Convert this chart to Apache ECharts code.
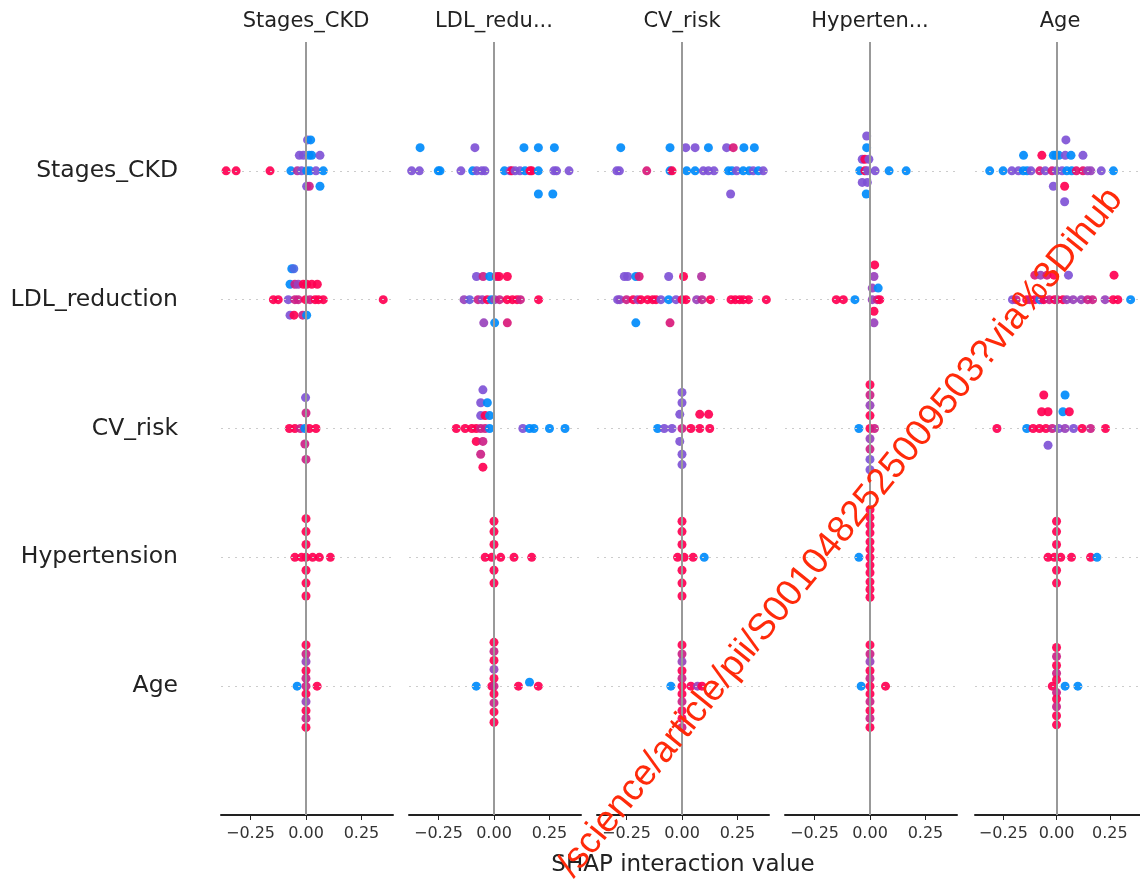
<!DOCTYPE html>
<html><head><meta charset="utf-8">
<script src="https://cdn.jsdelivr.net/npm/echarts@6/dist/echarts.min.js"></script>
<style>html,body{margin:0;padding:0;background:#fff}#c{width:1140px;height:880px}</style>
</head><body><div id="c"></div>
<script>
// Row features (top to bottom) and column titles
const features = ['Stages_CKD', 'LDL_reduction', 'CV_risk', 'Hypertension', 'Age'];
const columnTitles = ['Stages_CKD', 'LDL_redu...', 'CV_risk', 'Hyperten...', 'Age'];
const tickValues = [-0.25, 0, 0.25];
const xAxisLabel = 'SHAP interaction value';
const watermarkText = '/science/article/pii/S0010482525009503?via%3Dihub';

// Each point: [SHAP interaction value, swarm offset (row units), feature value 0(low)..1(high)]
// Row: Stages_CKD
const ckd_ckd = [[-0.36,0,1],[-0.315,0,1],[-0.162,0,1],[-0.068,0,0],[-0.039,0,0.7],[-0.02,0,0.5],[0.003,0,0],[0.018,0,0],[0.045,0,0.5],[0.078,0,0],
  [-0.03,0.12,0.5],[-0.012,0.12,0.5],[0.014,0.12,0],[0.026,0.12,0],[0.063,0.12,0.5],
  [0.007,0.24,0.5],[0.021,0.24,0],
  [0.003,-0.12,0.5],[0.015,-0.12,0.8],[0.063,-0.12,0]];
const ckd_ldl = [[-0.333,0.18,0],[-0.086,0.18,0.5],[0.135,0.18,0],[0.2,0.18,0],[0.272,0.18,0],
  [-0.371,0,0.5],[-0.336,0,0.5],[-0.251,0,0],[-0.243,0,0],[-0.149,0,0.5],[-0.096,0,0],[-0.078,0,0.5],[-0.055,0,0.5],[-0.041,0,0.5],[0.047,0,0],[0.072,0,0.5],[0.08,0,1],[0.095,0,0.5],[0.117,0,0.5],[0.14,0,0],[0.162,0,1],[0.17,0,1],[0.2,0,0],[0.27,0,0.5],[0.282,0,0.5],[0.338,0,0.5],
  [0.2,-0.18,0],[0.265,-0.18,0]];
const ckd_cv = [[-0.276,0.18,0],[-0.054,0.18,0],[0.017,0.18,0.5],[0.059,0.18,0.5],[0.119,0.18,0],[0.201,0.18,0.5],[0.231,0.18,0.85],[0.279,0.18,0],[0.326,0.18,0],
  [-0.294,0,0.5],[-0.282,0,0.5],[-0.159,0,0.85],[-0.054,0,0],[-0.045,0,1],[0.021,0,0],[0.059,0,0],[0.096,0,0.5],[0.119,0,0.5],[0.144,0,0.5],[0.209,0,0],[0.225,0,0],[0.246,0,0.5],[0.276,0,0],[0.303,0,0],[0.321,0,0.5],[0.344,0,0],[0.366,0,0.5],
  [0.219,-0.18,0.5]];
const ckd_hyp = [[-0.015,0.27,0.5],[-0.015,0.18,0],
  [-0.035,0.09,0.5],[-0.023,0.09,1],[-0.005,0.09,0.5],
  [-0.046,0,0],[-0.023,0,1],[-0.012,0,0.5],[0.023,0,0.5],[0.086,0,0],[0.163,0,0],
  [-0.035,-0.09,0.5],[-0.012,-0.09,0.5],[-0.017,-0.18,0]];
const ckd_age = [[0.044,0.24,0.5],
  [-0.155,0.12,0],[-0.069,0.12,1],[-0.015,0.12,0],[-0.003,0.12,0],[0.011,0.12,0],[0.041,0.12,0.5],[0.068,0.12,0],[0.124,0.12,0.5],
  [-0.314,0,0],[-0.251,0,0],[-0.21,0,0.5],[-0.179,0,0.5],[-0.156,0,0],[-0.138,0,0],[-0.12,0,0.5],[-0.079,0,0.85],[-0.053,0,0.5],[-0.021,0,0.85],[0,0,0.5],[0.026,0,0.5],[0.048,0,0],[0.071,0,0],[0.093,0,0.9],[0.124,0,0.9],[0.146,0,0.6],[0.161,0,0.6],[0.21,0,0.5],[0.267,0,0],
  [-0.015,-0.12,0.5],[0.038,-0.12,1],[0.038,-0.24,0.5]];
// Row: LDL_reduction
const ldl_ckd = [[-0.064,0.24,0],[-0.055,0.24,0.3],
  [-0.072,0.12,0],[-0.05,0.12,0.8],[-0.035,0.12,0.6],[-0.012,0.12,1],[0.003,0.12,1],[0.026,0.12,1],[0.051,0.12,1],
  [-0.147,0,1],[-0.125,0,1],[-0.08,0,0.5],[-0.05,0,0.8],[-0.035,0,0.8],[-0.002,0,1],[0.018,0,0.8],[0.041,0,1],[0.056,0,1],[0.078,0,1],[0.348,0,1],
  [-0.072,-0.12,0.5],[-0.054,-0.12,1],[-0.015,-0.12,0.8],[0.003,-0.12,0]];
const ldl_ldl = [[-0.079,0.18,0.5],[-0.049,0.18,0.8],[-0.019,0.18,0],[0.011,0.18,0.8],[0.023,0.18,1],[0.06,0.18,1],
  [-0.135,0,0.6],[-0.11,0,0.4],[-0.072,0,0.8],[-0.053,0,0.6],[-0.03,0,1],[-0.012,0,0],[0.003,0,0.6],[0.025,0,0.8],[0.059,0,1],[0.083,0,1],[0.104,0,1],[0.119,0,0.8],[0.201,0,1],
  [-0.046,-0.18,0.6],[0.003,-0.18,0],[0.06,-0.18,0.85]];
const ldl_cv = [[-0.26,0.18,0.5],[-0.245,0.18,0.5],[-0.208,0.18,0],[-0.193,0.18,0.85],[-0.06,0.18,0.5],[0.007,0.18,1],[0.088,0.18,0.7],
  [-0.29,0,0.5],[-0.28,0,0.55],[-0.25,0,0.8],[-0.22,0,1],[-0.2,0,0.6],[-0.185,0,1],[-0.155,0,1],[-0.132,0,1],[-0.117,0,1],[-0.095,0,0.5],[-0.06,0,0],[-0.027,0,0.5],[0,0,1],[0.018,0,1],[0.066,0,0.6],[0.09,0,0.75],[0.128,0,1],[0.221,0,1],[0.24,0,1],[0.26,0,1],[0.276,0,1],[0.3,0,1],[0.38,0,1],
  [-0.208,-0.18,0],[-0.054,-0.18,0.85]];
const ldl_hyp = [[0.021,0.27,1],[0.018,0.18,0.6],[0.01,0.09,0.6],[0.037,0.09,0],
  [-0.152,0,1],[-0.12,0,1],[-0.068,0,0],[0.01,0,0.6],[0.033,0,0.8],[0.044,0,1],
  [0.018,-0.09,1],[0.018,-0.18,0.6]];
const ldl_age = [[-0.102,0.19,0.85],[-0.075,0.19,0.6],[-0.045,0.19,0.85],[-0.012,0.19,1],[0.056,0.19,0.5],[0.27,0.19,1],
  [-0.207,0,0.5],[-0.19,0,0.8],[-0.14,0,1],[-0.125,0,0.8],[-0.102,0,1],[-0.079,0,0],[-0.07,0,0.5],[-0.06,0,1],[-0.034,0,0.8],[-0.009,0,1],[0.003,0,0.8],[0.03,0,1],[0.048,0,0.6],[0.078,0,0.6],[0.116,0,0.6],[0.146,0,0.8],[0.169,0,0.8],[0.228,0,0.6],[0.266,0,1],[0.288,0,1],[0.348,0,0]];
// Row: CV_risk
const cv_ckd = [[-0.002,0.24,0.5],[0,0.12,0.8],
  [-0.075,0,1],[-0.05,0,1],[-0.025,0,0.8],[-0.005,0,0],[0.015,0,1],[0.045,0,1],
  [-0.005,-0.12,0.8],[0,-0.24,0.8]];
const cv_ldl = [[-0.05,0.3,0.5],[-0.06,0.2,0.5],[-0.03,0.2,0],[-0.06,0.1,0.5],[-0.04,0.1,1],[-0.02,0.1,0],
  [-0.17,0,1],[-0.13,0,1],[-0.1,0,1],[-0.08,0,1],[-0.06,0,0.8],[-0.04,0,0.8],[-0.02,0,0],[0.13,0,0.5],[0.16,0,0],[0.18,0,0],[0.25,0,0],[0.32,0,0],
  [-0.08,-0.1,1],[-0.05,-0.1,0.8],[-0.06,-0.2,0.8],[-0.05,-0.3,1]];
const cv_cv = [[0,0.28,0.5],[0,0.2,0.5],[0.08,0.11,1],[0.12,0.11,1],[-0.01,0.11,0.5],
  [-0.11,0,0],[-0.08,0,0.5],[-0.045,0,0.5],[0,0,0.8],[0.04,0,1],[0.08,0,1],[0.125,0,1],
  [-0.01,-0.1,0.5],[0,-0.2,0.5],[0,-0.28,0.5]];
const cv_hyp = [[0,0.34,1],[0,0.26,0.8],[0,0.18,0.6],[0,0.1,1],
  [-0.05,0,0],[0,0,1],[0.02,0,0.8],
  [0,-0.08,0.6],[0,-0.16,0.8],[0,-0.24,0.5],[0,-0.32,0.5]];
const cv_age = [[-0.06,0.26,1],[0.04,0.26,0],
  [-0.07,0.13,1],[-0.04,0.13,1],[0.03,0.13,0],[0.06,0.13,1],
  [-0.28,0,1],[-0.14,0,0],[-0.11,0,1],[-0.08,0,1],[-0.05,0,1],[-0.02,0,0.8],[0.01,0,0.5],[0.04,0,0.6],[0.08,0,0.5],[0.12,0,1],[0.16,0,0.8],[0.23,0,1],
  [-0.04,-0.13,0.5]];
// Row: Hypertension
const hyp_ckd = [[0,0.3,1],[0,0.2,1],[0,0.1,1],
  [-0.05,0,1],[-0.02,0,1],[0,0,1],[0.03,0,1],[0.06,0,1],[0.11,0,1],
  [0,-0.1,1],[0,-0.2,1],[0,-0.3,1]];
const hyp_ldl = [[0,0.28,1],[0,0.2,1],[0,0.1,1],
  [-0.04,0,1],[-0.01,0,1],[0.03,0,1],[0.09,0,1],[0.17,0,1],
  [0,-0.1,1],[0,-0.2,1]];
const hyp_cv = [[0,0.28,1],[0,0.2,1],[0,0.1,1],
  [-0.02,0,1],[0.01,0,1],[0.05,0,1],[0.1,0,0],
  [0,-0.1,1],[0,-0.2,1],[0,-0.3,1]];
const hyp_hyp = [[0,0.37,1],[0,0.31,1],[0,0.25,1],[0,0.19,1],[0,0.12,1],[0,0.06,1],
  [-0.05,0,0],[0,0,1],[0,-0.06,1],[0,-0.12,1],[0,-0.19,1],[0,-0.25,1],[0,-0.31,1]];
const hyp_age = [[0,0.28,1],[0,0.2,1],[0,0.1,1],
  [-0.04,0,1],[-0.01,0,1],[0.02,0,1],[0.07,0,1],[0.16,0,1],[0.19,0,0],
  [0,-0.1,1],[0,-0.2,1]];
// Row: Age
const age_ckd = [[0,0.32,1],[0,0.25,0.8],[0,0.19,0.6],[0,0.12,1],[0,0.06,0.8],
  [-0.04,0,0],[0,0,0.8],[0.05,0,1],
  [0,-0.06,1],[0,-0.12,0.6],[0,-0.19,1],[0,-0.25,0.8],[0,-0.32,1]];
const age_ldl = [[0,0.34,1],[0,0.27,0.8],[0,0.2,1],[0,0.13,0.6],[0,0.06,1],
  [-0.08,0,0],[-0.01,0,1],[0,0,0.8],[0.11,0,1],[0.16,0.03,0],[0.2,0,1],
  [0,-0.06,1],[0,-0.13,0.8],[0,-0.2,1],[0,-0.28,1]];
const age_cv = [[0,0.32,1],[0,0.25,0.8],[0,0.19,0.6],[0,0.12,1],[0,0.06,0.8],
  [-0.05,0,0],[0,0,1],[0.04,0,1],[0.07,0,0.6],[0.09,0,1],
  [0,-0.06,1],[0,-0.12,0.8],[0,-0.19,1],[0,-0.25,1],[0,-0.32,0.8]];
const age_hyp = [[0,0.32,1],[0,0.25,0.8],[0,0.19,0.6],[0,0.12,1],[0,0.06,0.8],
  [-0.04,0,0],[0,0,1],[0.07,0,1],
  [0,-0.06,1],[0,-0.12,0.8],[0,-0.19,1],[0,-0.25,0.8],[0,-0.32,1]];
const age_age = [[0,0.3,1],[0,0.23,0.8],[0,0.16,1],[0,0.1,0.8],[0,0.05,1],
  [-0.02,0,1],[0.04,0,0],[0.1,0,0],
  [0,-0.05,0.8],[0,-0.1,1],[0,-0.16,0.8],[0,-0.23,1],[0,-0.3,1]];

const cells = [
  [ckd_ckd, ckd_ldl, ckd_cv, ckd_hyp, ckd_age],
  [ldl_ckd, ldl_ldl, ldl_cv, ldl_hyp, ldl_age],
  [cv_ckd, cv_ldl, cv_cv, cv_hyp, cv_age],
  [hyp_ckd, hyp_ldl, hyp_cv, hyp_hyp, hyp_age],
  [age_ckd, age_ldl, age_cv, age_hyp, age_age]
];

const panelLeft = [221, 409, 597, 785, 975];
const panelWidth = 172;
const gridTop = 42, gridHeight = 773;
const nRows = features.length;
const fontFam = '"DejaVu Sans", sans-serif';

const grids = [], xAxes = [], yAxes = [], series = [], graphics = [];
panelLeft.forEach((left, c) => {
  grids.push({left: left, top: gridTop, width: panelWidth, height: gridHeight});
  xAxes.push({
    type: 'value', gridIndex: c, min: -0.383, max: 0.392,
    axisLine: {show: true, onZero: false, lineStyle: {color: '#222', width: 2}},
    axisTick: {show: true, customValues: tickValues, length: 5, lineStyle: {color: '#222', width: 1}},
    axisLabel: {show: true, customValues: tickValues, color: '#333', fontSize: 16, fontFamily: fontFam, margin: 11,
      formatter: v => v.toFixed(2).replace('-', '\u2212')},
    splitLine: {show: false}
  });
  yAxes.push({type: 'value', gridIndex: c, min: -1, max: nRows, show: false});
  // guide lines
  series.push({
    type: 'scatter', xAxisIndex: c, yAxisIndex: c, data: [], z: 1, silent: true,
    markLine: {
      silent: true, symbol: 'none', animation: false, label: {show: false},
      data: features.map((f, r) => ({yAxis: nRows - 1 - r, lineStyle: {color: '#cccccc', width: 1, type: [2, 5]}}))
        .concat([{xAxis: 0, lineStyle: {color: '#999999', width: 2, type: 'solid'}}])
    }
  });
  features.forEach((f, r) => {
    series.push({
      type: 'scatter', xAxisIndex: c, yAxisIndex: c, z: 3, symbolSize: 9,
      itemStyle: {opacity: 0.92},
      data: cells[r][c].map(p => [p[0], nRows - 1 - r + p[1], p[2]])
    });
  });
  graphics.push({type: 'text', x: left + panelWidth / 2 - 1, y: 22,
    style: {text: columnTitles[c], fill: '#222', font: '21px ' + fontFam, textAlign: 'center', textVerticalAlign: 'middle'}});
});

features.forEach((f, r) => {
  const y = gridTop + gridHeight * (r + 1) / (nRows + 1);
  graphics.push({type: 'text', x: 178, y: y,
    style: {text: f, fill: '#222', font: '23.5px ' + fontFam, textAlign: 'right', textVerticalAlign: 'middle'}});
});
graphics.push({type: 'text', x: 683, y: 865,
  style: {text: xAxisLabel, fill: '#222', font: '23px ' + fontFam, textAlign: 'center', textVerticalAlign: 'middle'}});
graphics.push({type: 'text', x: 580, y: 884, rotation: 51 * Math.PI / 180, z: 100,
  style: {text: watermarkText, fill: '#ff2a0a', font: '37px "Liberation Sans", Arial, sans-serif', textAlign: 'left', textVerticalAlign: 'bottom'}});

const chart = echarts.init(document.getElementById('c'), null, {renderer: 'canvas'});
chart.setOption({
  animation: false,
  grid: grids, xAxis: xAxes, yAxis: yAxes, series: series,
  visualMap: {show: false, type: 'continuous', dimension: 2, min: 0, max: 1,
    seriesIndex: series.map((s, i) => i).filter(i => series[i].data.length > 0),
    inRange: {color: ['#008bfb', '#7f52d6', '#ff0052']}},
  graphic: graphics
});
</script></body></html>
